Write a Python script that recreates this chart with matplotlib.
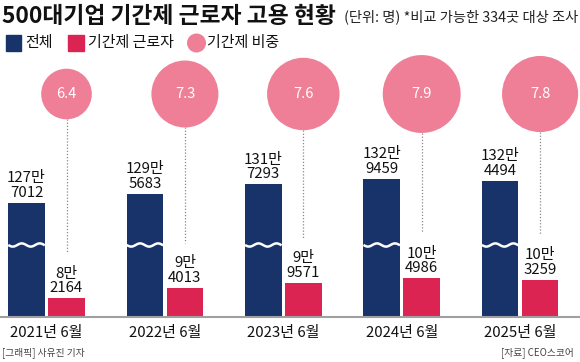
import numpy as np
import matplotlib
matplotlib.use("Agg")
import matplotlib.pyplot as plt
from matplotlib.patches import Circle, Rectangle

plt.rcParams['font.family'] = ['Noto Sans CJK KR', 'DejaVu Sans']

# data
periods = ["2021년 6월", "2022년 6월", "2023년 6월", "2024년 6월", "2025년 6월"]
total = [1277012, 1295683, 1317293, 1329459, 1324494]
temp = [82164, 94013, 99571, 104986, 103259]
share = [6.4, 7.3, 7.6, 7.9, 7.8]

NAVY = "#17336a"
RED = "#dc2452"
PINK = "#ee7f96"

W, H = 580, 362
fig = plt.figure(figsize=(W / 100, H / 100), dpi=100)
ax = fig.add_axes([0, 0, 1, 1])
ax.set_xlim(0, W)
ax.set_ylim(0, H)
ax.axis("off")


def fmt(v):
    man, rest = divmod(v, 10000)
    return f"{man}만\n{rest:04d}"


# broken-axis scales (pixels above baseline)
def h_total(v):
    return 129 + (v - 1308800) * 0.000458


def h_temp(v):
    return 31.6 + (v - 96800) * 0.000881


def r_share(v):
    return 34.4 + (v - 7.4) * 9.1


base = 45
bw = 36.5
cx0, step = 46.5, 118.4
circ_y = 268
brk_y = 117

for i, lab in enumerate(periods):
    cx = cx0 + step * i
    xb, xr = cx - 20, cx + 20
    hb, hr = h_total(total[i]), h_temp(temp[i])
    ax.bar(xb, hb, width=bw, bottom=base, color=NAVY, zorder=2)
    ax.bar(xr, hr, width=bw, bottom=base, color=RED, zorder=2)

    # wavy break
    wx = np.linspace(xb - bw / 2, xb + bw / 2, 60)
    wy = brk_y + 1.6 * np.sin(2 * np.pi * (wx - wx[0]) / 18 + np.pi)
    ax.plot(wx, wy, color="white", lw=1.8, zorder=3, solid_capstyle="butt")

    ax.text(xb, base + hb + 3, fmt(total[i]), ha="center", va="bottom",
            fontsize=10.8, fontweight="medium", linespacing=1.05, color="#111111")
    ax.text(xr, base + hr + 3, fmt(temp[i]), ha="center", va="bottom",
            fontsize=10.8, fontweight="medium", linespacing=1.05, color="#111111")

    r = r_share(share[i])
    ax.add_patch(Circle((xr, circ_y), r, color=PINK, zorder=2, lw=0))
    ax.text(xr, circ_y, f"{share[i]}", ha="center", va="center",
            fontsize=10.5, fontweight="medium", color="white", zorder=3)
    ax.plot([xr, xr], [circ_y - r, base + hr + 45], color="#888888",
            lw=0.9, ls=(0, (1, 1.5)), zorder=1)

    ax.text(cx, 29, lab, ha="center", va="center", fontsize=10.8, color="#111111")

ax.axhline(base, color="#a0a0a0", lw=1.5, zorder=4)

# title
ax.text(2, H - 23, "500대기업 기간제 근로자 고용 현황", ha="left", va="baseline",
        fontsize=16.4, fontweight="bold", color="#111111")
ax.text(578, H - 21, "(단위: 명) *비교 가능한 334곳 대상 조사", ha="right",
        va="baseline", fontsize=10.3, color="#222222")

# legend
ly = H - 43
ax.add_patch(Rectangle((6, ly - 8), 15, 16, color=NAVY))
ax.text(25, ly, "전체", va="center", fontsize=10.8, color="#111111")
ax.add_patch(Rectangle((68, ly - 8), 16, 16, color=RED))
ax.text(88, ly, "기간제 근로자", va="center", fontsize=10.8, color="#111111")
ax.add_patch(Circle((196.5, ly), 9.5, color=PINK, lw=0))
ax.text(207, ly, "기간제 비중", va="center", fontsize=10.8, color="#111111")

# footer
ax.text(2, 9, "[그래픽] 사유진 기자", ha="left", va="center", fontsize=7, color="#444444")
ax.text(574, 9, "[자료] CEO스코어", ha="right", va="center", fontsize=7, color="#444444")

fig.savefig("out.png", dpi=100)
